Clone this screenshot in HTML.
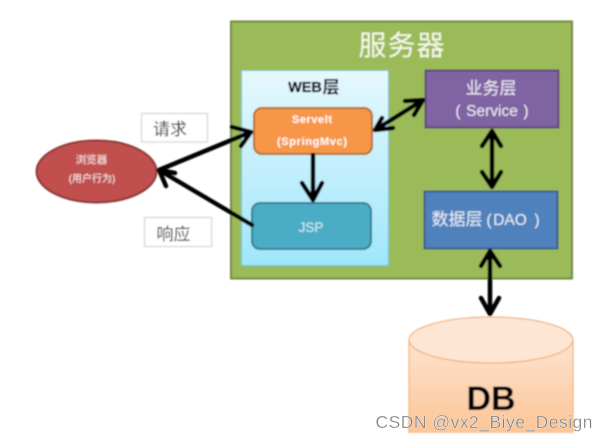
<!DOCTYPE html>
<html><head><meta charset="utf-8"><style>
html,body{margin:0;padding:0;background:#fff;width:607px;height:442px;overflow:hidden}
svg{display:block;position:absolute;left:0;top:0}
text{font-family:"Liberation Sans","Noto Sans CJK SC",sans-serif;text-anchor:middle}
</style></head><body>
<svg width="607" height="442" viewBox="0 0 607 442" xmlns="http://www.w3.org/2000/svg">
<defs>
<linearGradient id="w" x1="0" y1="0" x2="0" y2="1"><stop offset="0" stop-color="#e6f8fd"/><stop offset="1" stop-color="#9fe6fb"/></linearGradient>
<linearGradient id="c" x1="0" y1="0" x2="0" y2="1"><stop offset="0" stop-color="#fde3cf"/><stop offset="1" stop-color="#fcc596"/></linearGradient>
<filter id="b" x="-5%" y="-5%" width="110%" height="110%"><feGaussianBlur stdDeviation="0.7"/></filter>
</defs>
<g filter="url(#b)">
<rect x="231" y="21.500" width="341" height="257" fill="#9bbb59" stroke="#71893f" stroke-width="2"/>
<rect x="241.500" y="70.500" width="147" height="195" fill="url(#w)" stroke="#6cc4d8" stroke-width="1"/>
<rect x="254" y="108" width="118" height="46" rx="8" fill="#f79646" stroke="#b66d31" stroke-width="2"/>
<rect x="252" y="203" width="119" height="46" rx="8" fill="#4bacc6" stroke="#357d91" stroke-width="2"/>
<rect x="425.500" y="70.500" width="133" height="57" fill="#8064a2" stroke="#5c4776" stroke-width="2"/>
<rect x="424.500" y="191.500" width="133" height="57" fill="#4f81bd" stroke="#385d8a" stroke-width="2"/>
<ellipse cx="96.500" cy="171.500" rx="60" ry="31" fill="#c0504d" stroke="#8c3836" stroke-width="2"/>
<rect x="141.500" y="113.500" width="66" height="28.500" fill="#fff" stroke="#dcdcdc" stroke-width="1.500"/>
<rect x="144.500" y="217.500" width="67" height="29" fill="#fff" stroke="#dcdcdc" stroke-width="1.500"/>
<path d="M409 340V433H573V340Z" fill="url(#c)"/>
<path d="M409 340V433M573 340V433" stroke="#f0a868" fill="none"/>
<ellipse cx="491" cy="340" rx="82" ry="23" fill="#fee6d4" stroke="#eda565" stroke-width="1"/>
<g fill="none" stroke="#000" stroke-width="4.500" stroke-linecap="round" stroke-linejoin="round">
<path d="M159 170L251 132M232 127L251 132L241 146"/>
<path d="M175 173L159 170L166 186"/>
<path d="M252 225L159 170"/>
<path d="M313 155V200M302 183L313 200L322 183"/>
<path d="M375 130L423 100M405 101L423 100L414 115M393 128L375 130L382 118"/>
<path d="M492 131V187M482 146L492 131L501 146M482 172L492 187L501 172"/>
<path d="M490 251V314M481 266L490 251L500 266M481 298L490 314L499 298"/>
</g>
<text x="402" y="55" font-size="28" fill="#f6f8ee" letter-spacing="1">服务器</text>
<text x="305" y="92" font-size="14.500" font-weight="bold" fill="#000" stroke="#000" stroke-width="0.300">WEB</text>
<text x="331" y="93" font-size="17" font-weight="bold" fill="#000">层</text>
<text x="312" y="123" font-size="11" font-weight="bold" fill="#fff" textLength="40">Servelt</text>
<text x="312" y="145" font-size="11" font-weight="bold" fill="#fff" textLength="70">(SpringMvc)</text>
<text x="311" y="232" font-size="13.500" fill="#d6eef4">JSP</text>
<text x="491" y="94" font-size="17" fill="#f0ecf5">业务层</text>
<text x="458" y="116" font-size="15.500" fill="#f0ecf5">(</text>
<text x="492" y="116" font-size="15.500" fill="#f0ecf5">Service</text>
<text x="526" y="116" font-size="15.500" fill="#f0ecf5">)</text>
<text x="457" y="225" font-size="17" fill="#e8eef6">数据层</text>
<text x="489" y="225" font-size="16" fill="#e8eef6">(</text>
<text x="510" y="225" font-size="15.500" fill="#e8eef6">DAO</text>
<text x="537" y="225" font-size="16" fill="#e8eef6">)</text>
<text x="91.500" y="163" font-size="10.500" fill="#fbeeee">浏览器</text>
<text x="92" y="182" font-size="10" fill="#fbeeee">(用户行为)</text>
<text x="170" y="135" font-size="17" fill="#222">请求</text>
<text x="173.500" y="240" font-size="17" fill="#222">响应</text>
<text x="491" y="410" font-size="34" font-weight="bold" fill="#000">DB</text>
</g>
<text x="484" y="428" font-size="17.500" fill="#7d7d7d" stroke="#fff" stroke-width="0.300" textLength="217">CSDN @vx2_Biye_Design</text>
</svg>
</body></html>
